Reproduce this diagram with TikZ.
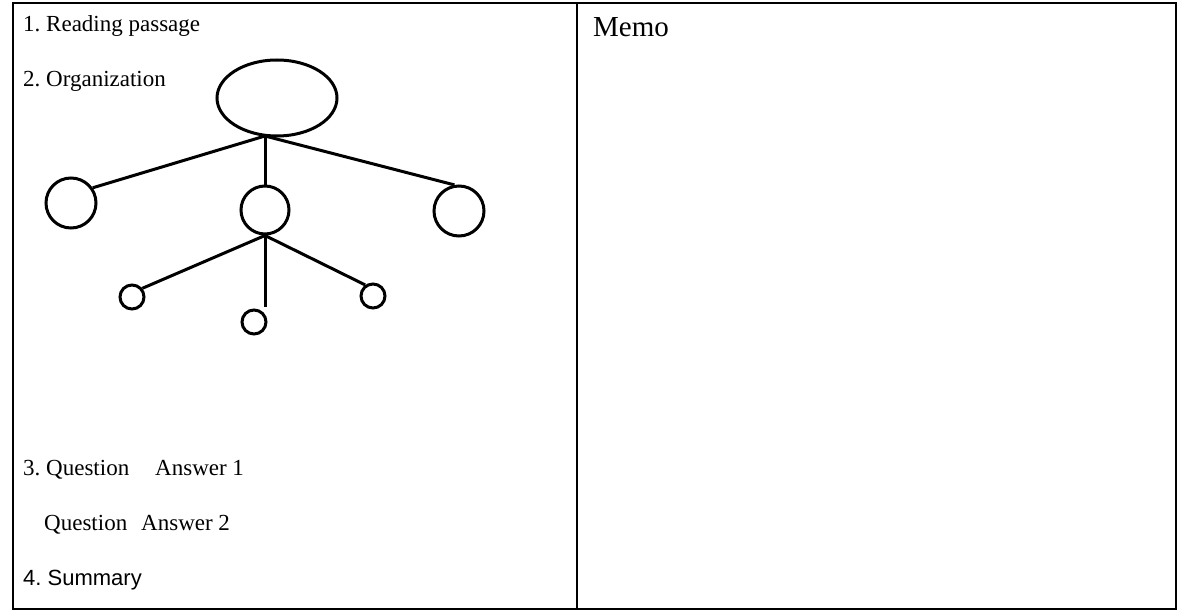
\documentclass[tikz,border=0pt]{standalone}
\usepackage{fontspec}
\setmainfont{Liberation Serif}
\newfontfamily\sumfont{Liberation Sans}
\usetikzlibrary{shapes.geometric}
\frenchspacing
\tikzset{
  txt/.style={anchor=base west, inner sep=0pt, font=\fontsize{23}{27}\selectfont},
  sumtxt/.style={anchor=base west, inner sep=0pt, font=\sumfont\fontsize{22}{26}\selectfont},
  memotxt/.style={anchor=base west, inner sep=0pt, font=\fontsize{29}{34}\selectfont},
  frame/.style={line width=2pt},
  tree/.style={line width=3pt},
  bubble/.style={draw, circle, line width=3pt, inner sep=0pt},
  oval/.style={draw, ellipse, line width=3pt, inner sep=0pt, minimum width=120pt, minimum height=76pt}
}
\begin{document}
\begin{tikzpicture}[x=1pt,y=-1pt]
\useasboundingbox (0,0) rectangle (1188,615);
% frame
\draw[frame] (13,3) rectangle (1176,609);
\draw[frame] (577,3) -- (577,609);
% texts
\node[txt] (t1) at (23,32) {1. Reading passage};
\node[txt] (t2) at (23,87) {2. Organization};
\node[txt] (t3) at (23,475) {3. Question};
\node[txt] (a1) at (155,475) {Answer 1};
\node[txt] (t3b) at (44,530) {Question};
\node[txt] (a2) at (141,530) {Answer 2};
\node[sumtxt] (t4) at (23,585) {4. Summary};
\node[memotxt] (memo) at (593,37) {Memo};
% tree
\node[oval] (root) at (277,98) {};
\coordinate (hub) at (265,136);
\node[bubble, minimum size=50pt] (lc) at (71,203) {};
\node[bubble, minimum size=48pt] (mc) at (265,210) {};
\node[bubble, minimum size=50pt] (rc) at (459,211) {};
\draw[tree] (hub) -- (lc.35);
\draw[tree] (hub) -- (mc);
\draw[tree] (hub) -- (rc.100);
\node[bubble, minimum size=24pt] (s1) at (132,297) {};
\node[bubble, minimum size=24pt] (s3) at (373,296) {};
\node[bubble, minimum size=24pt] (s2) at (254,322) {};
\coordinate (vend) at (265,307);
\draw[tree] (mc.south) -- (s1.40);
\draw[tree] (mc.south) -- (s3.125);
\draw[tree] (mc.south) -- (vend);
\end{tikzpicture}
\end{document}
